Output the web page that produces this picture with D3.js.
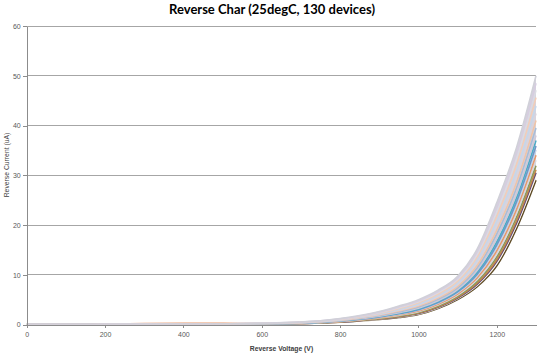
<!DOCTYPE html>
<html><head><meta charset="utf-8">
<script src="https://cdn.jsdelivr.net/npm/d3@7/dist/d3.min.js"></script>
<style>
html,body{margin:0;padding:0;background:#fff;}
svg{display:block;}
</style></head>
<body><svg id="c" width="545" height="359"></svg>
<script>
const title = "Reverse Char (25degC, 130 devices)";
const xLabel = "Reverse Voltage (V)";
const yLabel = "Reverse Current (uA)";
const xTicks = [0, 200, 400, 600, 800, 1000, 1200];
const yTicks = [0, 10, 20, 30, 40, 50, 60];
const voltages = [0, 100, 200, 300, 400, 500, 600, 700, 750, 800, 850, 900, 950, 1000, 1050, 1100, 1150, 1200, 1250, 1300];

// representative devices (uA)
const dev01 = [0,0,0,0,0,0.02,0.05,0.15,0.3,0.45,0.7,1.0,1.4,2.0,3.2,5.0,7.6,11.8,19.2,29.0];
const dev02 = [0,0,0,0,0.01,0.03,0.06,0.16,0.32,0.48,0.74,1.06,1.5,2.1,3.35,5.2,7.9,12.3,19.9,29.8];
const dev03 = [0,0,0,0,0.01,0.03,0.06,0.17,0.33,0.5,0.78,1.1,1.56,2.2,3.45,5.3,8.1,12.7,20.3,30.5];
const dev04 = [0,0,0,0.01,0.01,0.03,0.07,0.19,0.35,0.53,0.81,1.16,1.63,2.3,3.57,5.47,8.36,13.07,20.8,31.1];
const dev05 = [0,0,0,0.01,0.01,0.04,0.08,0.2,0.36,0.56,0.85,1.22,1.72,2.42,3.72,5.66,8.66,13.58,21.5,31.9];
const dev06 = [0,0,0,0.01,0.02,0.04,0.09,0.22,0.39,0.59,0.91,1.3,1.84,2.57,3.9,5.9,9.04,14.2,22.3,33.0];
const dev07 = [0,0,0.05,0.2,0.22,0.22,0.2,0.23,0.41,0.63,0.96,1.38,1.95,2.72,4.09,6.13,9.4,14.85,23.1,34.0];
const dev08 = [0,0,0.01,0.01,0.03,0.06,0.11,0.25,0.43,0.67,1.02,1.46,2.07,2.87,4.27,6.36,9.8,15.5,23.9,35.1];
const dev09 = [0,0,0.01,0.02,0.03,0.06,0.12,0.27,0.45,0.7,1.06,1.53,2.16,2.99,4.42,6.55,10.1,16.0,24.6,35.9];
const dev10 = [0,0,0.01,0.02,0.04,0.07,0.13,0.28,0.47,0.74,1.12,1.61,2.27,3.14,4.6,6.79,10.5,16.6,25.4,37.0];
const dev11 = [0,0,0.01,0.02,0.04,0.08,0.14,0.3,0.49,0.77,1.17,1.69,2.39,3.29,4.79,7.02,10.9,17.3,26.2,38.0];
const dev12 = [0,0,0.01,0.03,0.05,0.09,0.15,0.33,0.53,0.83,1.25,1.8,2.55,3.5,5.05,7.35,11.4,18.2,27.4,39.5];
const dev13 = [0,0,0.01,0.03,0.06,0.09,0.16,0.35,0.56,0.88,1.33,1.91,2.71,3.71,5.31,7.68,11.9,19.0,28.5,41.0];
const dev14 = [0,0,0.01,0.03,0.06,0.1,0.18,0.37,0.59,0.93,1.4,2.02,2.87,3.92,5.57,8.0,12.5,19.9,29.6,42.4];
const dev15 = [0,0,0.01,0.04,0.07,0.11,0.19,0.4,0.62,0.98,1.48,2.14,3.03,4.13,5.83,8.34,13.0,20.8,30.8,43.9];
const dev16 = [0,0,0.02,0.04,0.08,0.12,0.21,0.43,0.66,1.04,1.57,2.26,3.22,4.37,6.12,8.71,13.6,21.8,32.1,45.6];
const dev17 = [0,0,0.02,0.04,0.09,0.13,0.22,0.45,0.69,1.1,1.65,2.38,3.38,4.58,6.38,9.04,14.1,22.7,33.2,47.1];
const dev18 = [0,0,0.02,0.05,0.09,0.14,0.24,0.48,0.72,1.15,1.72,2.49,3.54,4.79,6.64,9.37,14.7,23.6,34.4,48.5];
const dev19 = [0,0,0.02,0.05,0.1,0.15,0.25,0.5,0.75,1.2,1.8,2.6,3.7,5.0,6.9,9.7,15.2,24.5,35.5,50.0];

// drawn top-most last: light traces on top, darker traces underneath
const devices = [dev01, dev02, dev03, dev04, dev05, dev06, dev07, dev08, dev09, dev10, dev11, dev12, dev13, dev14, dev15, dev16, dev17, dev18, dev19];
const deviceColors = ['#5E4B26', '#FFF8EE', '#5F4B7A', '#C8874A', '#8E9A5C', '#D8D8DE', '#E8986A', '#C6D3E6', '#6F97C9', '#4BACC6', '#CFC8D8', '#A9BCD6', '#F0C4A8', '#D9D3DD', '#C6D6EA', '#F2CDB8', '#DADAE2', '#D6CDE0', '#D0D0D8'];

const svg = d3.select('#c');
const m = {l: 26.7, r: 536, t: 26, b: 324.5};
const x = d3.scaleLinear().domain([0, 1300]).range([m.l, m.r]);
const y = d3.scaleLinear().domain([0, 60]).range([m.b, m.t]);

// gridlines
svg.append('g').selectAll('line').data(yTicks.filter(d => d > 0)).join('line')
  .attr('x1', m.l).attr('x2', m.r).attr('y1', d => y(d)).attr('y2', d => y(d))
  .attr('stroke', '#A6A6A6').attr('stroke-width', 1).attr('shape-rendering', 'crispEdges');

svg.append('clipPath').attr('id', 'clip').append('rect')
  .attr('x', m.l).attr('y', m.t - 2).attr('width', m.r - m.l + 2).attr('height', m.b - m.t + 2);

const plot = svg.append('g').attr('clip-path', 'url(#clip)');

// dense band of 130 overlapping device traces
const band = d3.area()
  .curve(d3.curveMonotoneX)
  .x((d, i) => x(voltages[i]))
  .y0((d, i) => y(d3.min(devices, s => s[i])))
  .y1((d, i) => y(d3.max(devices, s => s[i])));
plot.append('path').datum(voltages).attr('d', band).attr('fill', '#D6D4DD');

const line = d3.line().curve(d3.curveMonotoneX).x((d, i) => x(voltages[i])).y(d => y(d));
plot.selectAll('path.dev').data(devices).join('path')
  .attr('class', 'dev')
  .attr('d', line)
  .attr('fill', 'none')
  .attr('stroke', (d, i) => deviceColors[i])
  .attr('stroke-width', 1.6)
  .attr('stroke-linejoin', 'round');

// axes
const xAxis = svg.append('g').attr('transform', `translate(0,${m.b})`)
  .call(d3.axisBottom(x).tickValues(xTicks).tickSize(3).tickSizeOuter(0).tickFormat(d3.format('d')));
const yAxis = svg.append('g').attr('transform', `translate(${m.l},0)`)
  .call(d3.axisLeft(y).tickValues(yTicks).tickSize(4).tickSizeOuter(0).tickFormat(d3.format('d')));
[xAxis, yAxis].forEach(g => {
  g.select('.domain').attr('stroke', '#8C8C8C').attr('shape-rendering', 'crispEdges');
  g.selectAll('.tick line').attr('stroke', '#8C8C8C').attr('shape-rendering', 'crispEdges');
  g.selectAll('.tick text').attr('fill', '#595959')
    .style('font-family', '"Liberation Sans", Arial, sans-serif').style('font-size', '7px');
});
xAxis.selectAll('.tick text').attr('dy', '0').attr('y', 12);
yAxis.selectAll('.tick text').attr('x', -6).attr('dy', '0.35em');

// title and axis titles
svg.append('text').attr('x', 272).attr('y', 14).attr('text-anchor', 'middle')
  .style('font-family', 'Lato, "Open Sans", sans-serif').style('font-weight', 'bold').style('font-size', '13px')
  .attr('fill', '#000').text(title);
svg.append('text').attr('x', 281.5).attr('y', 351).attr('text-anchor', 'middle')
  .style('font-family', '"Liberation Sans", Arial, sans-serif').style('font-weight', 'bold').style('font-size', '6.8px')
  .attr('fill', '#404040').text(xLabel);
svg.append('text').attr('transform', 'translate(9,165) rotate(-90)').attr('text-anchor', 'middle')
  .style('font-family', '"Liberation Sans", Arial, sans-serif').style('font-size', '6.8px')
  .attr('fill', '#404040').text(yLabel);
</script>
</body></html>
